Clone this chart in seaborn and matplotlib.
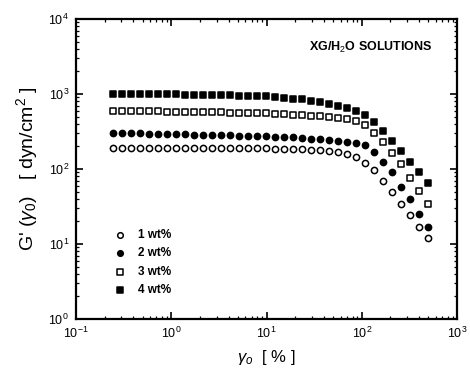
import numpy as np
import pandas as pd
import matplotlib
matplotlib.use("Agg")
import matplotlib.pyplot as plt
import seaborn as sns

# strain amplitude gamma_0 [%]
strain = [0.245, 0.305, 0.379, 0.472, 0.586, 0.729, 0.906, 1.13, 1.40, 1.74,
          2.17, 2.69, 3.35, 4.16, 5.18, 6.43, 8.00, 9.95, 12.4, 15.4,
          19.1, 23.8, 29.5, 36.7, 45.6, 56.8, 70.6, 87.7, 109, 136,
          169, 209, 261, 324, 403, 501]

# G'(gamma_0) [dyn/cm^2]
g_1wt = [192, 192, 192, 192, 191, 191, 191, 190, 190, 190,
         190, 190, 190, 190, 189, 189, 189, 188, 187, 186,
         184, 182, 180, 177, 173, 168, 160, 145, 120, 97,
         69, 50, 34, 24, 17, 12.1]
g_2wt = [300, 300, 300, 298, 297, 295, 293, 292, 290, 288,
         286, 284, 282, 280, 278, 276, 274, 272, 270, 267,
         264, 260, 255, 250, 244, 237, 230, 222, 209, 170,
         125, 91, 58, 40, 25, 17]
g_3wt = [590, 590, 590, 588, 585, 585, 583, 580, 578, 575,
         572, 570, 567, 563, 560, 558, 555, 550, 545, 540,
         532, 525, 515, 505, 495, 480, 460, 440, 386, 305,
         229, 165, 117, 76, 51, 34]
g_4wt = [1000, 1000, 1000, 995, 995, 990, 990, 985, 980, 975,
         970, 965, 960, 955, 950, 945, 940, 930, 915, 895,
         870, 845, 815, 780, 740, 695, 650, 590, 520, 423,
         321, 236, 174, 124, 91, 65]

labels = ["1 wt%", "2 wt%", "3 wt%", "4 wt%"]
series = [g_1wt, g_2wt, g_3wt, g_4wt]
markers = ["o", "o", "s", "s"]
faces = ["white", "black", "white", "black"]

sns.set_style("ticks")
plt.rcParams["font.family"] = ["Liberation Sans", "DejaVu Sans"]
plt.rcParams["mathtext.fontset"] = "custom"
plt.rcParams["mathtext.rm"] = "Liberation Sans"
plt.rcParams["mathtext.it"] = "Liberation Sans:italic"
plt.rcParams["mathtext.bf"] = "Liberation Sans:bold"
plt.rcParams["text.color"] = "black"
plt.rcParams["axes.labelcolor"] = "black"

fig = plt.figure(figsize=(4.7, 3.78), dpi=100)
ax = fig.add_axes([76 / 470, 1 - 319 / 378, 381 / 470, 300 / 378])

for lab, vals, mk, fc in zip(labels, series, markers, faces):
    df = pd.DataFrame({"strain": strain, "G": vals})
    sns.scatterplot(data=df, x="strain", y="G", marker=mk, s=20,
                    facecolor=fc, edgecolor="black", linewidth=1.1,
                    label=lab, ax=ax, zorder=3)

ax.set_xscale("log")
ax.set_yscale("log")
ax.set_xlim(0.1, 1000)
ax.set_ylim(1, 10000)

for sp in ax.spines.values():
    sp.set_linewidth(1.6)
    sp.set_color("black")

ax.tick_params(which="both", direction="in", top=True, right=True,
               colors="black", labelsize=9)
ax.tick_params(which="major", length=5, width=1.2, pad=5)
ax.tick_params(which="minor", length=2.5, width=0.9)
ax.xaxis.set_minor_locator(matplotlib.ticker.LogLocator(base=10, subs=np.arange(2, 10), numticks=20))
ax.yaxis.set_minor_locator(matplotlib.ticker.LogLocator(base=10, subs=np.arange(2, 10), numticks=20))

ax.set_xlabel(r"$\gamma_o$  [ % ]", fontsize=12, labelpad=5)
ax.set_ylabel(r"G' ($\gamma_0$)   [ dyn/cm$^2$ ]", fontsize=14, labelpad=6)

ax.text(0.935, 0.905, r"XG/H$_2$O SOLUTIONS", transform=ax.transAxes,
        ha="right", va="center", fontsize=9, fontweight="bold")

leg = ax.legend(loc="upper left", bbox_to_anchor=(0.085, 0.32), frameon=False,
                handletextpad=1.0, labelspacing=0.55, borderpad=0,
                handlelength=1.0, markerscale=0.9,
                prop={"size": 8.5, "weight": "bold"})

fig.savefig("out.png", dpi=100)
